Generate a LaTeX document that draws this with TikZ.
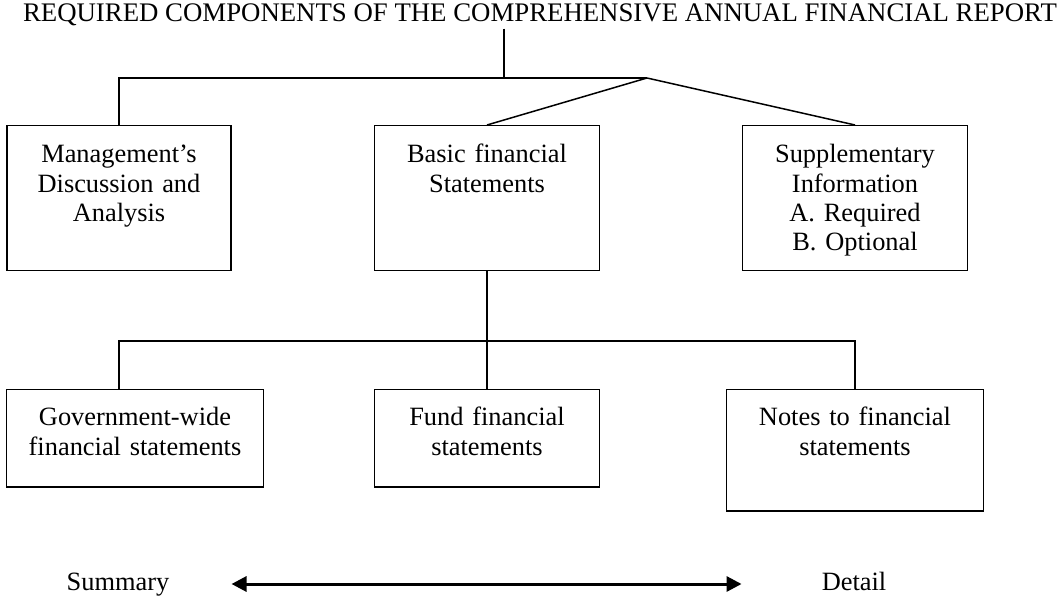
\documentclass[tikz,border=0pt]{standalone}
\usepackage{fontspec}
\setmainfont{Liberation Serif}
\usetikzlibrary{arrows.meta}
\tikzset{>={Triangle[length=15pt,width=15pt]}}
\tikzstyle{topbox} = [rectangle, draw=black, line width=1.5pt, inner sep=0pt, minimum width=225pt, text width=215pt, align=center, text height=37pt, text depth=108pt]
\tikzstyle{lowbox} = [rectangle, draw=black, line width=1.5pt, inner sep=0pt, minimum width=257pt, text width=245pt, align=center, text height=36pt, text depth=61pt]
\tikzstyle{scalelabel} = [inner sep=0pt, text height=18pt, text depth=6pt, anchor=base]
\tikzstyle{line} = [line width=1.5pt]
\tikzstyle{arrow} = [line width=3pt,<->]

\begin{document}
\begin{tikzpicture}[x=1pt, y=-1pt, node distance=368pt, font=\fontsize{26.4}{29.3}\selectfont]

\useasboundingbox (0,0) rectangle (1060,601);

\node (title) [inner sep=2pt, anchor=base, font=\fontsize{26.8}{29.3}\selectfont] at (540,22) {REQUIRED COMPONENTS OF THE COMPREHENSIVE ANNUAL FINANCIAL REPORT};

\node (mda) [topbox, anchor=north, minimum width=224pt] at (119,125) {Management’s\\Discussion and\\Analysis};
\node (basic) [topbox, right of = mda] {Basic financial\\Statements};
\node (supp) [topbox, right of = basic] {Supplementary\\Information\\A. Required\\B. Optional};

\node (fund) [lowbox, minimum width=225pt, text width=215pt, below of = basic, yshift=128pt] {Fund financial\\statements};
\node (gov) [lowbox, left of = fund, xshift=16pt] {Government-wide\\financial statements};
\node (notes) [lowbox, right of = fund, text depth=85pt, yshift=-12pt] {Notes to financial\\statements};

\node (summary) [scalelabel] at (118,590) {Summary};
\node (detail) [scalelabel] at (854,590) {Detail};

\coordinate (hub) at (504,78);
\coordinate (fork) at (647,78);
\coordinate (bus) at (487,341);

\draw [line] (title.south -| hub)--(hub);
\draw [line] (mda.north) |- (fork);
\draw [line] (fork)--(basic.north);
\draw [line] (fork)--(supp.north);
\draw [line] (basic.south)--(fund.north);
\draw [line] (gov.north -| mda.south) |- (bus) -| (notes.north);
\draw [arrow] ([xshift=62pt]summary.east)--([xshift=-80pt]detail.west);

\end{tikzpicture}
\end{document}
